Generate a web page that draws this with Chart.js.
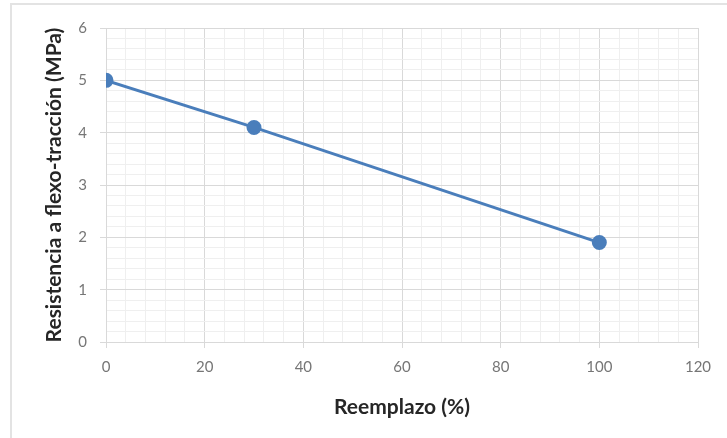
<!DOCTYPE html>
<html lang="es">
<head>
    <meta charset="UTF-8">
    <title>Resistencia a flexo-tracción</title>
    <script src="https://cdn.jsdelivr.net/npm/chart.js"></script>
    <style>
        body {
            margin: 0;
            padding: 0;
            background: #ffffff;
            overflow: hidden;
        }

        .frame {
            position: absolute;
            left: 10px;
            top: 3px;
            width: 800px;
            height: 500px;
            border: 2px solid #e3e3e3;
        }

        .chart-box {
            position: absolute;
            left: 0;
            top: 0;
            width: 727px;
            height: 438px;
        }
    </style>
</head>
<body>
    <div class="frame"></div>
    <div class="chart-box"><canvas id="flexChart"></canvas></div>

    <script>
        // data
        const reemplazo = [0, 30, 100];
        const resistencia = [5.0, 4.1, 1.9];

        const xTitle = 'Reemplazo (%)';
        const yTitle = 'Resistencia a flexo-tracción (MPa)';

        const lineColor = '#4a7ebb';
        const minorGrid = '#efefef';
        const majorGrid = '#d9d9d9';
        const tickText = '#767676';
        const titleText = '#262626';

        const isMajor = (v, step) => Math.abs(v / step - Math.round(v / step)) < 1e-6;

        const points = reemplazo.map((x, i) => ({ x: x, y: resistencia[i] }));

        const ctx = document.getElementById('flexChart').getContext('2d');
        new Chart(ctx, {
            type: 'scatter',
            data: {
                datasets: [{
                    data: points,
                    showLine: true,
                    borderColor: lineColor,
                    backgroundColor: lineColor,
                    borderWidth: 3,
                    pointRadius: 6,
                    pointHoverRadius: 6,
                    tension: 0
                }]
            },
            options: {
                responsive: true,
                maintainAspectRatio: false,
                animation: false,
                layout: { padding: { left: 38, top: 28, right: 29, bottom: 0 } },
                plugins: {
                    legend: { display: false },
                    tooltip: { enabled: false }
                },
                scales: {
                    x: {
                        type: 'linear',
                        min: 0,
                        max: 120,
                        afterFit: scale => { scale.height = 96; },
                        border: { color: majorGrid, width: 1 },
                        grid: {
                            color: c => isMajor(c.tick.value, 20) ? majorGrid : minorGrid,
                            tickColor: c => isMajor(c.tick.value, 20) ? majorGrid : 'rgba(0,0,0,0)',
                            tickLength: 6
                        },
                        ticks: {
                            stepSize: 4,
                            autoSkip: false,
                            maxRotation: 0,
                            padding: 10,
                            color: tickText,
                            font: { family: 'Lato', size: 15 },
                            callback: v => isMajor(v, 20) ? v : ''
                        },
                        title: {
                            display: true,
                            text: xTitle,
                            color: titleText,
                            font: { family: 'Lato', size: 21, weight: 'bold' },
                            padding: { top: 4, bottom: 18 }
                        }
                    },
                    y: {
                        min: 0,
                        max: 6,
                        afterFit: scale => { scale.width = 68; },
                        border: { color: majorGrid, width: 1 },
                        grid: {
                            color: c => isMajor(c.tick.value, 1) ? majorGrid : minorGrid,
                            tickColor: c => isMajor(c.tick.value, 1) ? majorGrid : 'rgba(0,0,0,0)',
                            tickLength: 6
                        },
                        ticks: {
                            stepSize: 0.2,
                            autoSkip: false,
                            padding: 13,
                            color: tickText,
                            font: { family: 'Lato', size: 15 },
                            callback: v => isMajor(v, 1) ? Math.round(v) : ''
                        },
                        title: {
                            display: true,
                            text: yTitle,
                            color: titleText,
                            font: { family: 'Lato', size: 21, weight: 'bold' },
                            padding: { top: 4, bottom: 4 }
                        }
                    }
                }
            }
        });
    </script>
</body>
</html>
